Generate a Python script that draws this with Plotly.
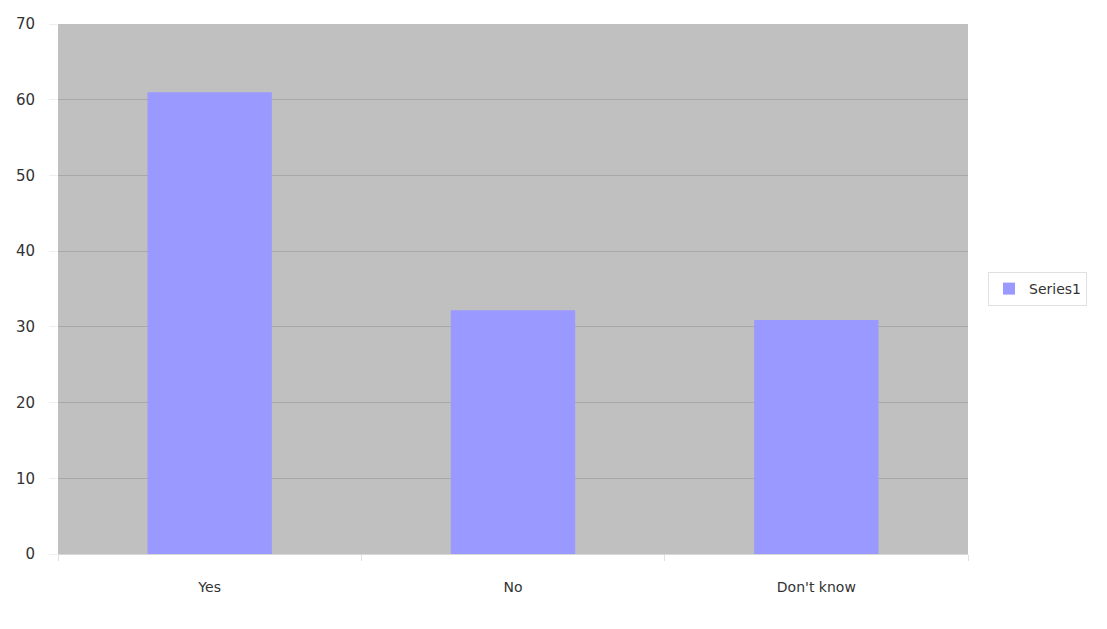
import plotly.graph_objects as go

categories = ["Yes", "No", "Don't know"]
values = [61, 32.2, 30.9]
series_name = "Series1"

fig = go.Figure()
fig.add_trace(go.Bar(
    x=categories, y=values, name=series_name,
    marker=dict(color="#9999ff", line=dict(width=0)),
    showlegend=True,
))
fig.update_layout(
    width=1107, height=629,
    margin=dict(l=58, r=139, t=24, b=75),
    paper_bgcolor="white",
    plot_bgcolor="#c0c0c0",
    bargap=0.59,
    font=dict(family="DejaVu Sans", size=15, color="#333333"),
    showlegend=True,
    legend=dict(
        x=1.022, y=0.5, xanchor="left", yanchor="middle",
        bordercolor="#e0e0e0", borderwidth=1, bgcolor="white",
        font=dict(size=14, color="#333333"),
        itemwidth=30,
    ),
)
fig.update_xaxes(
    showgrid=False, showline=True, linecolor="#d8d8d8", linewidth=1,
    ticks="outside", tickson="boundaries", ticklen=6, tickcolor="#e0e0e0",
    tickfont=dict(size=14), ticklabelstandoff=20,
)
fig.update_yaxes(
    range=[0, 70], dtick=10, showgrid=True, gridcolor="#a8a8a8", gridwidth=1,
    zeroline=False, showline=False, ticks="outside", ticklen=8, tickcolor="#eeeeee",
    tickfont=dict(size=15), ticklabelstandoff=11,
)
fig.write_html("out.html")
